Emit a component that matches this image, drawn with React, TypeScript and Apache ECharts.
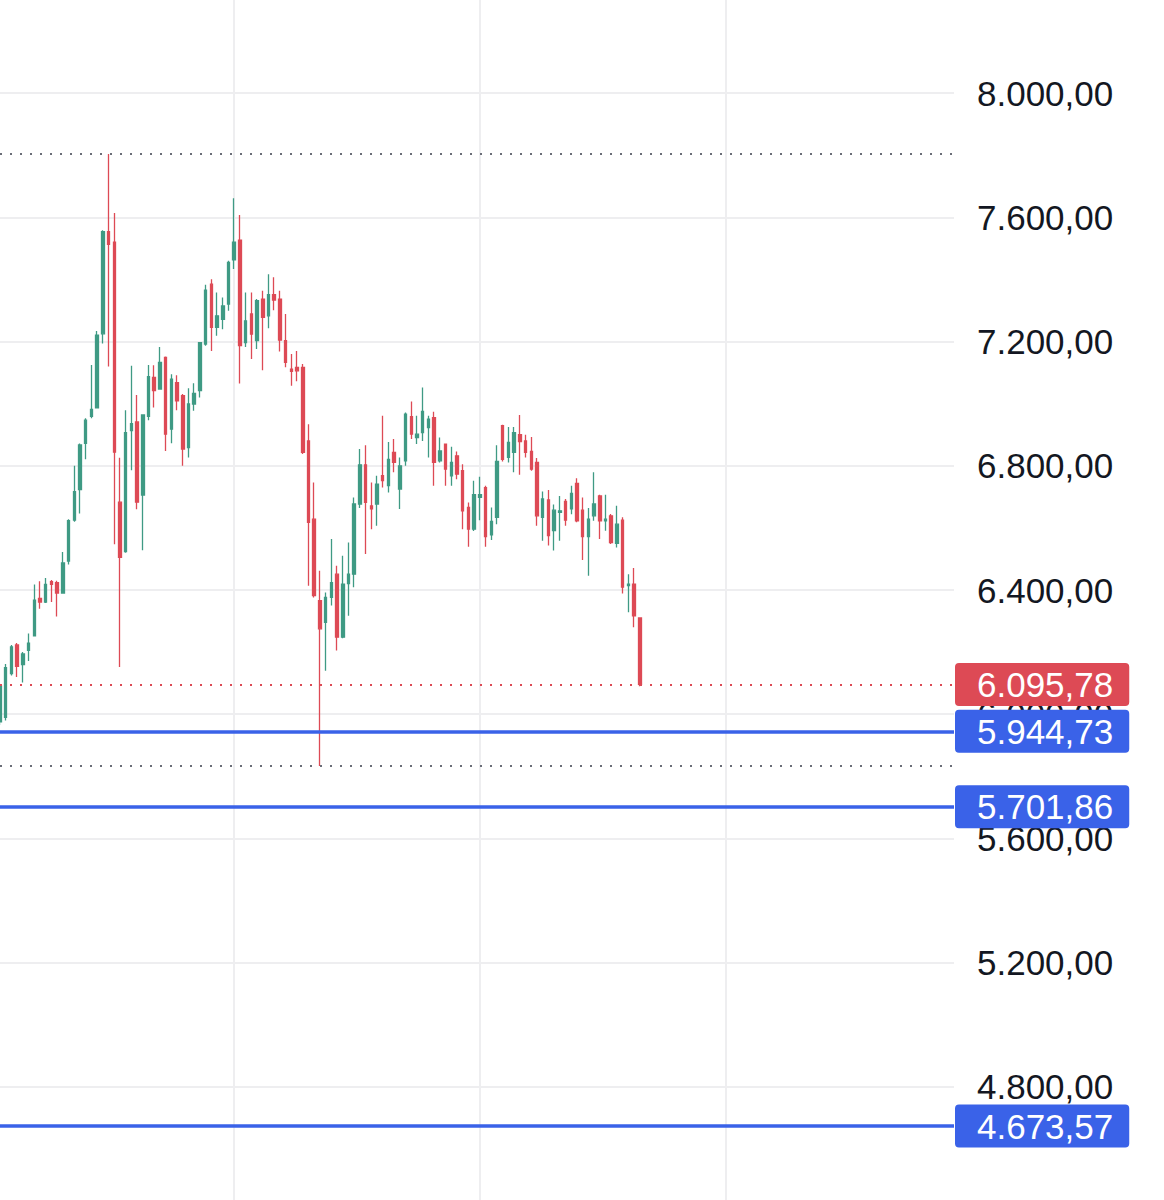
import { useEffect, useRef } from "react";
import * as echarts from "echarts";

// OHLC (one candle per slot, left to right)
const opens = [
  5975, 5990, 6131, 6223, 6160, 6206, 6252, 6373, 6361, 6427,
  6424, 6390, 6493, 6625, 6723, 6872, 6959, 6987, 7225, 7554,
  7520, 6683, 6524, 6913, 6941, 6706, 6959, 7085, 7047, 7149,
  6918, 7068, 7026, 6859, 6999, 7042, 7192, 7385, 7246, 7272,
  7321, 7463, 7527, 7197, 7289, 7203, 7337, 7283, 7351, 7337,
  7203, 7111, 7117, 7117, 6880, 6628, 6366, 6296, 6376, 6451,
  6248, 6421, 6451, 6677, 6803, 6671, 6677, 6768, 6736, 6843,
  6725, 6816, 6958, 6891, 6907, 6923, 6955, 6816, 6870, 6768,
  6832, 6784, 6666, 6596, 6698, 6730, 6578, 6634, 6929, 6827,
  6843, 6900, 6880, 6846, 6811, 6634, 6690, 6591, 6650, 6685,
  6661, 6743, 6657, 6572, 6639, 6703, 6623, 6639, 6550, 6625,
  6414, 6419, 6310,
];
const closes = [
  6090, 6150, 6217, 6154, 6194, 6229, 6367, 6361, 6418, 6418,
  6390, 6487, 6623, 6717, 6867, 6947, 6982, 7221, 7554, 7513,
  6844, 6505, 6907, 6936, 6683, 6964, 7087, 7042, 7133, 6902,
  7079, 7009, 6854, 6999, 7033, 7197, 7366, 7246, 7283, 7315,
  7455, 7520, 7187, 7267, 7224, 7332, 7278, 7351, 7334, 7205,
  7133, 7104, 7106, 6843, 6618, 6382, 6275, 6376, 6424, 6248,
  6419, 6451, 6677, 6803, 6682, 6661, 6741, 6752, 6821, 6811,
  6800, 6966, 6902, 6902, 6975, 6950, 6811, 6848, 6789, 6811,
  6773, 6655, 6596, 6707, 6707, 6572, 6621, 6814, 6821, 6875,
  6907, 6878, 6843, 6789, 6639, 6693, 6575, 6657, 6655, 6625,
  6711, 6623, 6572, 6628, 6677, 6623, 6628, 6553, 6612, 6409,
  6419, 6317, 6095.78,
];
const lows = [
  5965, 5980, 6125, 6120, 6102, 6171, 6250, 6340, 6358, 6361,
  6315, 6388, 6482, 6620, 6646, 6821, 6953, 6985, 7194, 7120,
  6547, 6152, 6520, 6786, 6660, 6528, 6947, 6988, 7045, 6848,
  6873, 6979, 6800, 6827, 6977, 7020, 7187, 7170, 7219, 7240,
  7299, 7434, 7065, 7183, 7144, 7176, 7108, 7243, 7301, 7168,
  7117, 7058, 7072, 6838, 6414, 6376, 5833, 6140, 6350, 6205,
  6245, 6317, 6409, 6664, 6516, 6596, 6607, 6730, 6714, 6779,
  6661, 6800, 6886, 6870, 6880, 6827, 6736, 6811, 6736, 6736,
  6757, 6596, 6539, 6590, 6625, 6539, 6561, 6612, 6814, 6811,
  6779, 6771, 6827, 6784, 6607, 6559, 6543, 6527, 6559, 6607,
  6644, 6618, 6497, 6446, 6623, 6564, 6591, 6548, 6537, 6389,
  6328, 6280, 6090,
];
const highs = [
  6098, 6162, 6223, 6229, 6200, 6260, 6418, 6428, 6439, 6432,
  6430, 6522, 6628, 6800, 6872, 6953, 7125, 7234, 7559, 7804,
  7614, 6826, 6979, 7122, 7028, 6966, 7125, 7124, 7183, 7152,
  7095, 7092, 7031, 7050, 7066, 7199, 7383, 7401, 7358, 7342,
  7460, 7662, 7608, 7358, 7358, 7337, 7364, 7417, 7407, 7364,
  7289, 7160, 7170, 7128, 6934, 6746, 6462, 6392, 6564, 6478,
  6510, 6553, 6698, 6854, 6866, 6746, 6768, 6961, 6877, 6886,
  6827, 6972, 7007, 6961, 7052, 6961, 6974, 6891, 6872, 6861,
  6846, 6805, 6682, 6752, 6765, 6736, 6666, 6866, 6932, 6925,
  6925, 6964, 6900, 6893, 6825, 6717, 6722, 6675, 6703, 6693,
  6736, 6760, 6698, 6664, 6779, 6707, 6707, 6645, 6671, 6634,
  6451, 6471, 6312,
];

const slotCount = 168; // candle slots across the plot, incl. empty future space
const timeGridIdx = [41, 84, 127]; // vertical time grid lines
const supportLevels = [5944.73, 5701.86, 4673.57];
const yMin = 4400;
const yMax = 8400;
const yStep = 400;

const UP = "#3f9a84";
const DOWN = "#dd4a55";
const BLUE = "#3a62e8";
const LABEL_FONT = "'Liberation Sans', Arial, sans-serif";

function fmt(v: number): string {
  const [ip, dp] = v.toFixed(2).split(".");
  return ip.replace(/\B(?=(\d{3})+(?!\d))/g, ".") + "," + dp;
}

export default function App() {
  const ref = useRef<HTMLDivElement>(null);

  useEffect(() => {
    if (!ref.current) return;
    const chart = echarts.init(ref.current, undefined, { renderer: "svg" });

    const categories = Array.from({ length: slotCount }, (_, i) => String(i));
    const candles = opens.map((o, i) => [o, closes[i], lows[i], highs[i]]);
    const lastClose = closes[closes.length - 1];
    const maxHigh = Math.max(...highs);
    const minLow = Math.min(...lows);

    const priceLabel = (bg: string) => ({
      show: true,
      position: "end" as const,
      distance: 1,
      formatter: (p: any) => fmt(p.value),
      color: "#ffffff",
      backgroundColor: bg,
      borderRadius: 4,
      padding: [6, 16, 5, 22],
      fontSize: 35,
      lineHeight: 32,
      fontFamily: LABEL_FONT,
    });

    chart.setOption({
      animation: false,
      backgroundColor: "#ffffff",
      grid: { left: 0, top: 0, bottom: 0, width: 954, containLabel: false },
      xAxis: {
        type: "category",
        data: categories,
        boundaryGap: false,
        axisLine: { show: false },
        axisTick: { show: false },
        axisLabel: { show: false },
        splitLine: {
          show: true,
          interval: (index: number) => timeGridIdx.includes(index),
          lineStyle: { color: "#eeeef0", width: 2 },
        },
      },
      yAxis: {
        type: "value",
        position: "right",
        min: yMin,
        max: yMax,
        interval: yStep,
        axisLine: { show: false },
        axisTick: { show: false },
        axisLabel: {
          margin: 23,
          color: "#131722",
          fontSize: 35,
          fontFamily: LABEL_FONT,
          formatter: (v: number) => fmt(v),
          showMinLabel: false,
          showMaxLabel: false,
        },
        splitLine: { show: true, lineStyle: { color: "#eeeef0", width: 2 } },
      },
      series: [
        {
          type: "candlestick",
          data: candles,
          barWidth: 3,
          itemStyle: {
            color: UP,
            color0: DOWN,
            borderColor: UP,
            borderColor0: DOWN,
            borderWidth: 1.3,
          },
          markLine: {
            silent: true,
            symbol: ["none", "none"],
            animation: false,
            data: [
              {
                yAxis: maxHigh,
                lineStyle: { color: "#6b6e78", width: 2, type: [2, 8] },
                label: { show: false },
              },
              {
                yAxis: minLow,
                lineStyle: { color: "#6b6e78", width: 2, type: [2, 8] },
                label: { show: false },
              },
              ...supportLevels.map((lv) => ({
                yAxis: lv,
                lineStyle: { color: BLUE, width: 3.5, type: "solid" },
                label: priceLabel(BLUE),
              })),
              {
                yAxis: lastClose,
                lineStyle: { color: DOWN, width: 2, type: [2, 8] },
                label: priceLabel(DOWN),
              },
            ],
          },
        },
      ],
    });

    return () => chart.dispose();
  }, []);

  // The chart spans 4400..8400; it is shifted up so that 8000 sits at y≈93
  // and extends below the window, as in the reference crop.
  return (
    <div
      ref={ref}
      style={{
        position: "fixed",
        left: 0,
        top: -31,
        width: 1164,
        height: 1242,
        background: "#ffffff",
      }}
    />
  );
}
